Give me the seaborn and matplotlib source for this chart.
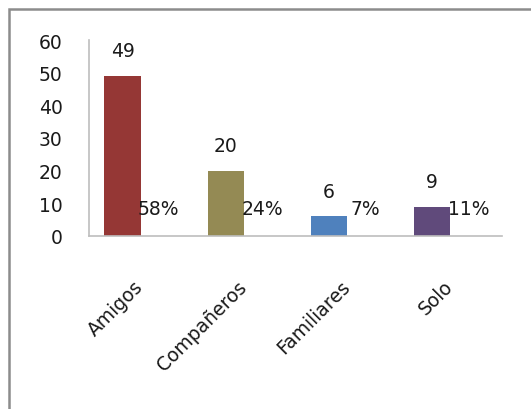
import matplotlib
matplotlib.use("Agg")
import matplotlib.pyplot as plt
from matplotlib.patches import Rectangle
import seaborn as sns
import pandas as pd

categories = ["Amigos", "Compañeros", "Familiares", "Solo"]
values = [49, 20, 6, 9]
percent_labels = ["58%", "24%", "7%", "11%"]
colors = ["#953735", "#948A54", "#4F81BD", "#604A7B"]
y_ticks = [0, 10, 20, 30, 40, 50, 60]

sns.set_theme(style="white")
plt.rcParams["font.family"] = ["DejaVu Sans"]
FS = 13.5
TC = "#1a1a1a"

df = pd.DataFrame({"cat": categories, "val": values})

fig = plt.figure(figsize=(5.31, 4.10), dpi=100)
ax = fig.add_axes([89 / 531, 173 / 410, 413 / 531, 196 / 410])

sns.barplot(data=df, x="cat", y="val", hue="cat", palette=colors,
            width=0.35, dodge=False, legend=False, saturation=1, ax=ax)

bw = 0.35
for p in ax.patches:
    p.set_x(p.get_x() - bw / 2)
    p.set_edgecolor("none")

for p, v, pl in zip(ax.patches, values, percent_labels):
    cx = p.get_x() + p.get_width() / 2
    ax.annotate(str(v), (cx, v), xytext=(0, 25), textcoords="offset pixels",
                ha="center", va="center", fontsize=FS, color=TC)
    ax.annotate(pl, (cx + bw, 0), xytext=(0, 27), textcoords="offset pixels",
                ha="center", va="center", fontsize=FS, color=TC)

ax.set_ylim(0, 60)
ax.set_xlim(-0.5, 3.5)
ax.set_yticks(y_ticks)
ax.set_yticklabels([str(t) for t in y_ticks], fontsize=FS, color=TC)
ax.tick_params(axis="y", length=0, pad=19)
ax.tick_params(axis="x", length=0, pad=34)
ax.set_xticks(range(len(categories)))
ax.set_xticklabels(categories, rotation=45, ha="right", va="center",
                   rotation_mode="anchor", fontsize=FS, color=TC)
ax.set_xlabel("")
ax.set_ylabel("")
for s in ["top", "right"]:
    ax.spines[s].set_visible(False)
for s in ["left", "bottom"]:
    ax.spines[s].set_color("#BEBEBE")
    ax.spines[s].set_linewidth(1.2)

fig.patches.append(Rectangle((9 / 531, -0.2), 1.5, 400 / 410 + 0.2,
                             transform=fig.transFigure, fill=False,
                             edgecolor="#8C8C8C", linewidth=1.8))

fig.savefig("out.png", dpi=100)
